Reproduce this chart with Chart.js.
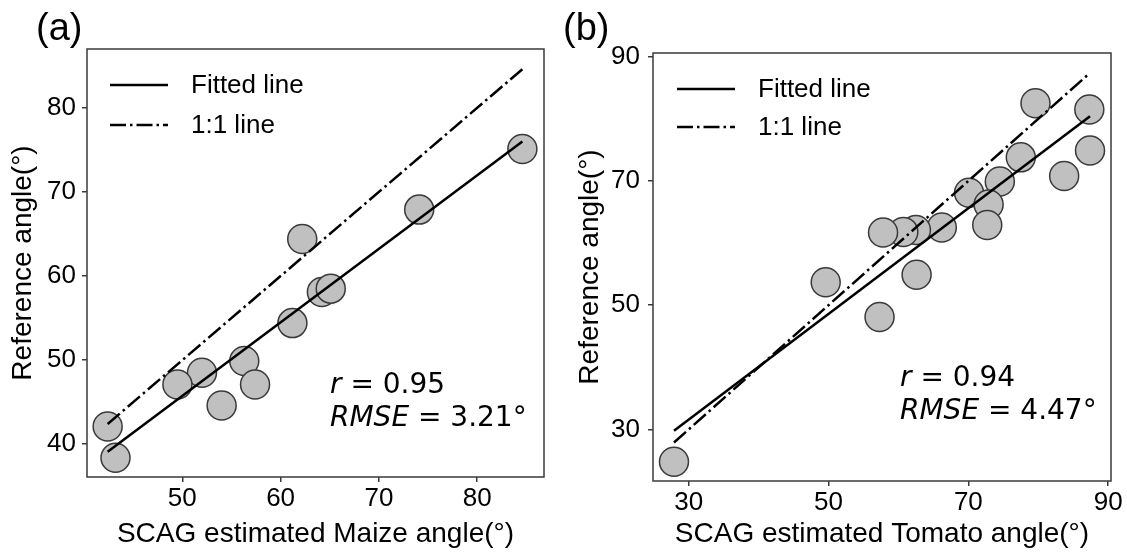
<!DOCTYPE html>
<html>
<head>
<meta charset="utf-8">
<script src="https://cdn.jsdelivr.net/npm/chart.js@4/dist/chart.umd.min.js"></script>
<style>
  html, body { margin: 0; padding: 0; background: #fff; }
  #wrap { position: relative; width: 1127px; height: 553px; }
  .panel { position: absolute; top: 0; height: 553px; }
</style>
</head>
<body>
<div id="wrap">
  <div class="panel" style="left:0;width:560px"><canvas id="chartA"></canvas></div>
  <div class="panel" style="left:560px;width:567px"><canvas id="chartB"></canvas></div>
</div>
<script>
// (a) Maize: SCAG estimate vs reference angle
const maizeX = [84.6, 74.1, 62.2, 64.2, 65.1, 61.2, 56.3, 57.4, 52.0, 49.5, 54.0, 42.4, 43.2];
const maizeY = [75.1, 67.9, 64.4, 58.1, 58.5, 54.4, 49.9, 47.1, 48.5, 47.1, 44.6, 42.1, 38.4];
const maizeFitX = [42.4, 84.6];
const maizeFitY = [39.1, 76.0];
const maizeOneX = [42.4, 84.6];
const maizeOneY = [42.4, 84.6];
const maizeTicksX = [50, 60, 70, 80];
const maizeTicksY = [40, 50, 60, 70, 80];

// (b) Tomato
const tomatoX = [79.6, 87.3, 87.4, 83.7, 77.5, 74.5, 70.1, 72.9, 72.7, 66.2, 62.5, 60.7, 57.8, 62.6, 49.6, 57.3, 27.9];
const tomatoY = [82.5, 81.5, 74.9, 70.8, 73.8, 69.9, 68.1, 66.2, 62.9, 62.5, 62.1, 61.8, 61.7, 54.9, 53.7, 48.1, 24.8];
const tomatoFitX = [27.9, 87.4];
const tomatoFitY = [29.8, 80.4];
const tomatoOneX = [27.9, 87.4];
const tomatoOneY = [27.9, 87.4];
const tomatoTicksX = [30, 50, 70, 90];
const tomatoTicksY = [30, 50, 70, 90];

const SANS = '"Liberation Sans", Arial, sans-serif';
const MATH = '"DejaVu Sans", sans-serif';
const EDGE = '#3a3a3a';

const pairs = (xs, ys) => xs.map((x, i) => ({ x, y: ys[i] }));

// box, legend inside the plot, panel letter and r / RMSE text
const decorPlugin = {
  id: 'decor',
  afterDraw(chart) {
    const c = chart.options.plugins.decor;
    const { ctx, chartArea: a } = chart;
    ctx.save();
    ctx.strokeStyle = EDGE;
    ctx.lineWidth = 1.5;
    ctx.strokeRect(a.left, a.top, a.right - a.left, a.bottom - a.top);

    // panel letter
    ctx.fillStyle = '#000';
    ctx.font = `38px ${SANS}`;
    ctx.textBaseline = 'alphabetic';
    ctx.textAlign = 'left';
    ctx.fillText(c.letter, c.letterX, 40);

    // legend
    const ds = chart.data.datasets;
    c.legendRows.forEach((row, i) => {
      const d = ds[i];
      ctx.beginPath();
      ctx.lineWidth = d.borderWidth;
      ctx.strokeStyle = d.borderColor;
      ctx.setLineDash(d.borderDash || []);
      ctx.moveTo(c.legX, row);
      ctx.lineTo(c.legX + 58, row);
      ctx.stroke();
      ctx.setLineDash([]);
      ctx.font = `26px ${SANS}`;
      ctx.textBaseline = 'middle';
      ctx.fillText(d.label, c.legX + 81, row + 1);
    });

    // statistics
    ctx.textBaseline = 'alphabetic';
    let x = c.statX;
    ctx.font = `italic 28px ${MATH}`;
    ctx.fillText('r', x, c.statY);
    x += ctx.measureText('r').width;
    ctx.font = `28px ${MATH}`;
    ctx.fillText(' = ' + c.r, x, c.statY);
    x = c.statX;
    ctx.font = `italic 28px ${MATH}`;
    ctx.fillText('RMSE', x, c.statY + 33);
    x += ctx.measureText('RMSE').width;
    ctx.font = `28px ${MATH}`;
    ctx.fillText(' = ' + c.rmse, x, c.statY + 33);
    ctx.restore();
  }
};

function makeChart(id, cfg) {
  const lineStyle = { borderColor: '#000', borderWidth: 2.5, pointRadius: 0, showLine: true, fill: false };
  return new Chart(document.getElementById(id), {
    type: 'scatter',
    data: {
      datasets: [
        { label: 'Fitted line', data: pairs(cfg.fitX, cfg.fitY), ...lineStyle },
        { label: '1:1 line', data: pairs(cfg.oneX, cfg.oneY), ...lineStyle, borderDash: [16, 4, 2.5, 4] },
        {
          label: 'samples',
          data: pairs(cfg.xs, cfg.ys),
          pointRadius: 14.5,
          pointBackgroundColor: '#c0c0c0',
          pointBorderColor: EDGE,
          pointBorderWidth: 1.5,
          showLine: false
        }
      ]
    },
    options: {
      responsive: true,
      maintainAspectRatio: false,
      animation: false,
      clip: false,
      layout: { padding: { top: cfg.top, right: cfg.right, left: 0, bottom: 0 } },
      plugins: {
        legend: { display: false },
        tooltip: { enabled: false },
        decor: cfg.decor
      },
      scales: {
        x: {
          type: 'linear',
          min: cfg.xMin, max: cfg.xMax,
          afterBuildTicks: s => { s.ticks = cfg.ticksX.map(v => ({ value: v })); },
          afterFit: s => { s.height = cfg.xAxisH; },
          ticks: { color: '#000', font: { family: SANS, size: 26 }, padding: 1, maxRotation: 0 },
          grid: { drawOnChartArea: false, drawTicks: true, tickLength: 5, tickColor: EDGE, lineWidth: 1.5 },
          border: { display: false },
          title: { display: true, text: cfg.xTitle, color: '#000', font: { family: SANS, size: 28 }, padding: { top: 0, bottom: 2 } }
        },
        y: {
          type: 'linear',
          min: cfg.yMin, max: cfg.yMax,
          afterBuildTicks: s => { s.ticks = cfg.ticksY.map(v => ({ value: v })); },
          afterFit: s => { s.width = cfg.yAxisW; },
          ticks: { color: '#000', font: { family: SANS, size: 26 }, padding: cfg.yPad },
          grid: { drawOnChartArea: false, drawTicks: true, tickLength: 5, tickColor: EDGE, lineWidth: 1.5 },
          border: { display: false },
          title: { display: true, text: 'Reference angle(°)', color: '#000', font: { family: SANS, size: 28 }, padding: { top: cfg.yTitlePad, bottom: 0 } }
        }
      }
    },
    plugins: [decorPlugin]
  });
}

makeChart('chartA', {
  xs: maizeX, ys: maizeY, fitX: maizeFitX, fitY: maizeFitY, oneX: maizeOneX, oneY: maizeOneY,
  ticksX: maizeTicksX, ticksY: maizeTicksY,
  xMin: 40.3, xMax: 86.8, yMin: 36.1, yMax: 87.0,
  top: 49, right: 16, yAxisW: 87, xAxisH: 76, yPad: 6, yTitlePad: 6,
  xTitle: 'SCAG estimated Maize angle(°)',
  decor: { letter: '(a)', letterX: 36, legX: 110, legendRows: [85, 125], statX: 330, statY: 393, r: '0.95', rmse: '3.21°' }
});

makeChart('chartB', {
  xs: tomatoX, ys: tomatoY, fitX: tomatoFitX, fitY: tomatoFitY, oneX: tomatoOneX, oneY: tomatoOneY,
  ticksX: tomatoTicksX, ticksY: tomatoTicksY,
  xMin: 24.9, xMax: 90.4, yMin: 21.7, yMax: 90.6,
  top: 53, right: 16, yAxisW: 93, xAxisH: 72, yPad: 8, yTitlePad: 13,
  xTitle: 'SCAG estimated Tomato angle(°)',
  decor: { letter: '(b)', letterX: 3, legX: 117, legendRows: [89, 127], statX: 340, statY: 386, r: '0.94', rmse: '4.47°' }
});
</script>
</body>
</html>
